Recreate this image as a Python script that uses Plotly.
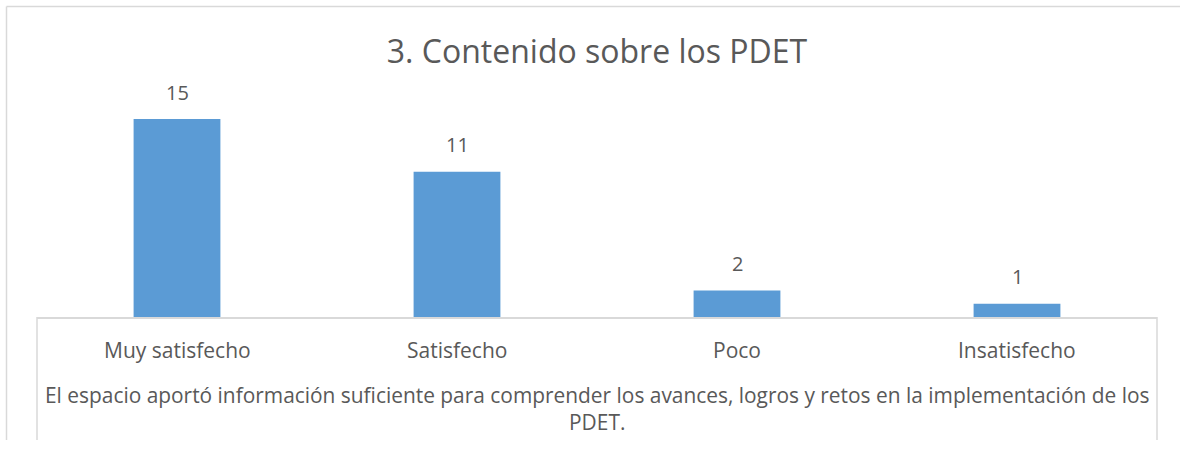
import plotly.graph_objects as go

categories = ["Muy satisfecho", "Satisfecho", "Poco", "Insatisfecho"]
values = [15, 11, 2, 1]
title_text = "3. Contenido sobre los PDET"
axis_title = ("El espacio aportó información suficiente para comprender los avances, logros y retos en la implementación de los"
              "<br>PDET.")

W, H = 1180, 449
PL, PR, PT, PB = 37, 1157, 80, 317  # plot area pixel bounds
px_per_unit = 13.2
ymax = (PB - PT) / px_per_unit

def paper_x(px):
    return (px - PL) / (PR - PL)

def paper_y(py):
    return (PB - py) / (PB - PT)

TEXT = "#595959"
GRID = "#D9D9D9"
FONT = "Open Sans"

fig = go.Figure()
fig.add_trace(go.Bar(
    x=categories, y=values, width=0.31,
    marker=dict(color="#5B9BD5", line=dict(width=0)),
    hoverinfo="skip",
))

annotations = []
for c, v in zip(categories, values):
    annotations.append(dict(x=c, y=v, xref="x", yref="y", text=str(v), showarrow=False,
                            yanchor="middle", yshift=27,
                            font=dict(family=FONT, size=20, color=TEXT)))
    annotations.append(dict(x=c, y=0, xref="x", yref="y", text=c, showarrow=False,
                            yanchor="middle", yshift=-33,
                            font=dict(family=FONT, size=21, color=TEXT)))
annotations.append(dict(x=paper_x(597), y=paper_y(408), xref="paper", yref="paper",
                        text=axis_title, showarrow=False, yanchor="middle",
                        font=dict(family=FONT, size=20.9, color=TEXT)))

line = dict(color=GRID, width=1.5)
shapes = [
    dict(type="line", xref="paper", yref="paper", x0=paper_x(6.5), x1=paper_x(1185),
         y0=paper_y(6.5), y1=paper_y(6.5), line=line),
    dict(type="line", xref="paper", yref="paper", x0=paper_x(6.5), x1=paper_x(6.5),
         y0=paper_y(6.5), y1=paper_y(440), line=line),
    dict(type="line", xref="paper", yref="paper", x0=0, x1=0,
         y0=0, y1=paper_y(440), line=line),
    dict(type="line", xref="paper", yref="paper", x0=1, x1=1,
         y0=0, y1=paper_y(440), line=line),
]

fig.update_layout(
    width=W, height=H,
    margin=dict(l=PL, r=W - PR, t=PT, b=H - PB, pad=0),
    paper_bgcolor="white", plot_bgcolor="white",
    title=dict(text=title_text, x=paper_x(597), xref="paper", xanchor="center",
               y=1 - 52 / H, yanchor="middle",
               font=dict(family=FONT, size=32, color=TEXT)),
    xaxis=dict(showline=True, linecolor=GRID, linewidth=1.5, showticklabels=False,
               ticks="", showgrid=False, zeroline=False, fixedrange=True),
    yaxis=dict(range=[0, ymax], visible=False, showgrid=False, zeroline=False, fixedrange=True),
    showlegend=False,
    hovermode=False,
    annotations=annotations,
    shapes=shapes,
)

fig.write_html("out.html", config={"displayModeBar": False, "staticPlot": True},
               post_script="document.body.style.margin='0';document.body.style.overflow='hidden';")
